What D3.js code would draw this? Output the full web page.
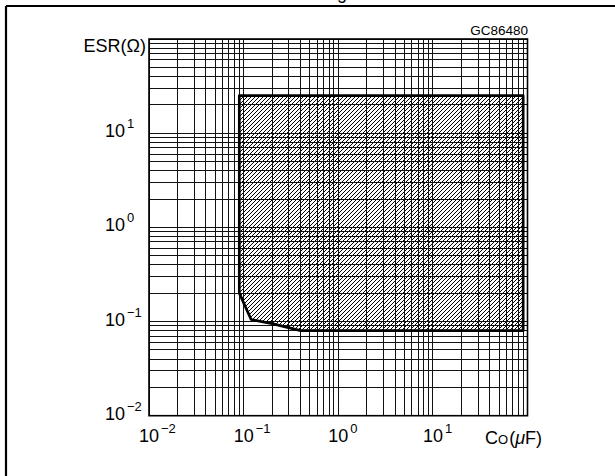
<!DOCTYPE html>
<html>
<head>
<meta charset="utf-8">
<script src="https://cdn.jsdelivr.net/npm/d3@7"></script>
<style>
  html, body { margin: 0; padding: 0; background: #fff; }
  svg { display: block; font-family: "Liberation Sans", Arial, sans-serif; }
</style>
</head>
<body>
<svg id="chart" width="615" height="476"></svg>
<script>
// ---- data ----
const xDomain = [0.01, 100];          // Co (µF)
const yDomain = [0.01, 100];          // ESR (Ω)
const xLabelValues = [0.01, 0.1, 1, 10];
const xLabelExps = ["-2", "-1", "0", "1"];
const yLabelValues = [0.01, 0.1, 1, 10];
const yLabelExps = ["-2", "-1", "0", "1"];
// stable region boundary (Co µF, ESR Ω)
const regionCo  = [0.09, 90, 90, 0.4, 0.2, 0.12, 0.09];
const regionESR = [25, 25, 0.08, 0.08, 0.095, 0.105, 0.2];

const svg = d3.select("#chart");
const x = d3.scaleLog().domain(xDomain).range([149, 527.5]);
const y = d3.scaleLog().domain(yDomain).range([415.7, 39]);

// outer frame (left and top edges visible)
svg.append("line").attr("x1", 6).attr("y1", 6).attr("x2", 615).attr("y2", 6)
  .attr("stroke", "#000").attr("stroke-width", 2.2);
svg.append("line").attr("x1", 6).attr("y1", 6).attr("x2", 6).attr("y2", 476)
  .attr("stroke", "#000").attr("stroke-width", 2.2);
// title, cut off at the top edge as in the reference (only the descender shows)
svg.append("text").attr("x", 342).attr("y", -1).attr("text-anchor", "middle")
  .attr("font-size", 18).text("g");

// hatch pattern
const defs = svg.append("defs");
const pat = defs.append("pattern").attr("id", "hatch")
  .attr("patternUnits", "userSpaceOnUse").attr("width", 4).attr("height", 4);
pat.append("path").attr("d", "M-1,1 L1,-1 M0,4 L4,0 M3,5 L5,3")
  .attr("stroke", "#000").attr("stroke-width", 1);

const pts = regionCo.map((c, i) => [x(c), y(regionESR[i])]);
const line = d3.line().curve(d3.curveLinearClosed);

svg.append("path").attr("d", line(pts)).attr("fill", "url(#hatch)").attr("stroke", "none");

// grid
const g = svg.append("g").attr("stroke", "#111").attr("stroke-width", 1).attr("shape-rendering", "crispEdges");
g.selectAll(".vx").data(x.ticks()).join("line")
  .attr("x1", d => x(d)).attr("x2", d => x(d)).attr("y1", y(yDomain[1])).attr("y2", y(yDomain[0]));
g.selectAll(".hy").data(y.ticks()).join("line")
  .attr("y1", d => y(d)).attr("y2", d => y(d)).attr("x1", x(xDomain[0])).attr("x2", x(xDomain[1]));
svg.append("rect").attr("x", x(xDomain[0])).attr("y", y(yDomain[1]))
  .attr("width", x(xDomain[1]) - x(xDomain[0])).attr("height", y(yDomain[0]) - y(yDomain[1]))
  .attr("fill", "none").attr("stroke", "#000").attr("stroke-width", 1.6);

// region outline
svg.append("path").attr("d", line(pts)).attr("fill", "none")
  .attr("stroke", "#000").attr("stroke-width", 2.7).attr("stroke-linejoin", "round");

// axis labels
const fs = 18, sfs = 13;
xLabelValues.forEach((v, i) => {
  const t = svg.append("text").attr("x", x(v) - 10).attr("y", 442).attr("font-size", fs);
  t.append("tspan").text("10");
  t.append("tspan").attr("dy", -9).attr("dx", 2).attr("font-size", sfs).text(xLabelExps[i].replace("-", "\u2212"));
});
yLabelValues.forEach((v, i) => {
  const t = svg.append("text").attr("x", 105).attr("y", y(v) + 4).attr("font-size", fs);
  t.append("tspan").text("10");
  t.append("tspan").attr("dy", -9).attr("dx", 2).attr("font-size", sfs).text(yLabelExps[i].replace("-", "\u2212"));
});

// axis titles
svg.append("text").attr("x", 146).attr("y", 52).attr("text-anchor", "end")
  .attr("font-size", fs).text("ESR(\u03A9)");
const xt = svg.append("text").attr("x", 485).attr("y", 444).attr("font-size", fs);
xt.append("tspan").text("C");
xt.append("tspan").attr("font-size", 13).text("O");
xt.append("tspan").attr("dx", 1).text("(");
xt.append("tspan").attr("font-style", "italic").text("\u03BC");
xt.append("tspan").text("F)");

svg.append("text").attr("x", 528).attr("y", 35).attr("text-anchor", "end")
  .attr("font-size", 13.5).text("GC86480");
</script>
</body>
</html>
